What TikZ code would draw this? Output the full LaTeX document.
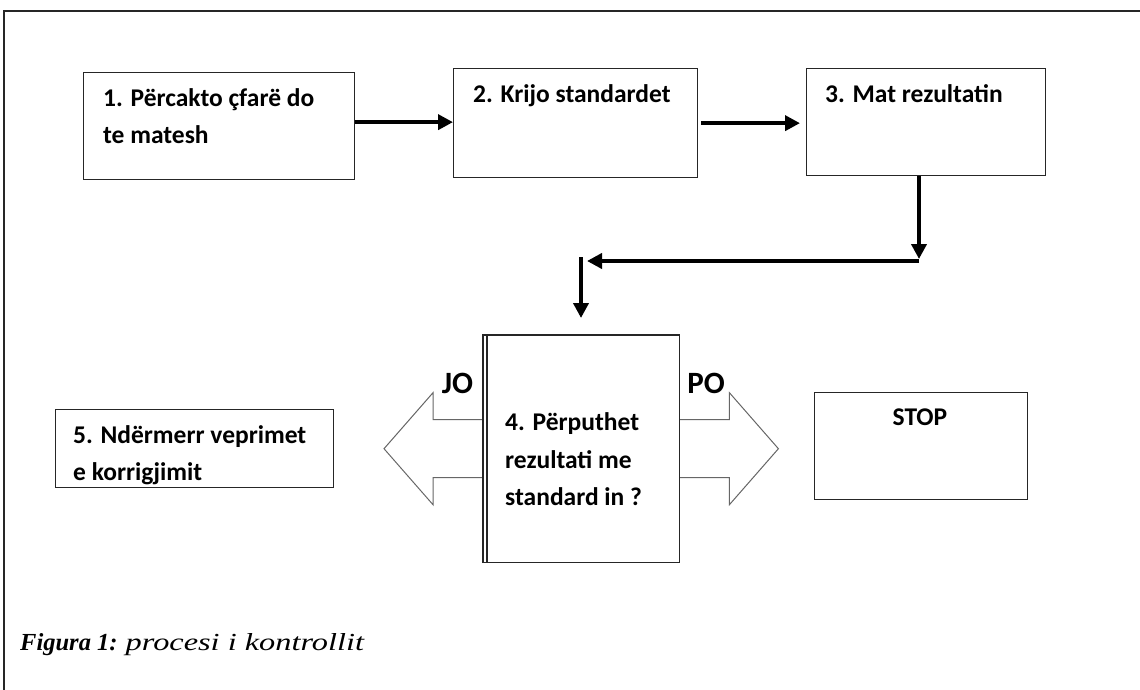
\documentclass[tikz,border=0pt]{standalone}
\usepackage{fontspec}
\setmainfont{Carlito}
\newfontfamily\capfont{Liberation Serif}
\usetikzlibrary{arrows.meta,calc}
\begin{document}
\begin{tikzpicture}[x=1pt,y=-1pt,
  box/.style={draw=black!85,line width=1.3pt,inner sep=0pt,anchor=north west},
  txt/.style={anchor=base west,inner sep=0pt,font=\fontsize{25.5}{30}\selectfont\bfseries,text=black},
  big/.style={anchor=base,inner sep=0pt,font=\fontsize{31}{36}\selectfont\bfseries},
  conn/.style={line width=4.5pt,-{Triangle[length=15pt,width=15pt]}},
  bigarrow/.style={draw=black!60,line width=1pt,fill=white,line join=miter}]
\useasboundingbox (0,0) rectangle (1140,690);
\draw[line width=1.5pt,black!85] (4,690) -- (4,11) -- (1140,11);

\node[box,minimum width=271pt,minimum height=107pt] (b1) at (83,72) {};
\node[box,minimum width=244pt,minimum height=109pt] (b2) at (453,68) {};
\node[box,minimum width=239pt,minimum height=107pt] (b3) at (806,68) {};
\node[box,minimum width=278pt,minimum height=78pt] (b5) at (55,409) {};
\node[box,minimum width=213pt,minimum height=107pt] (b6) at (814,392) {};

% big outline arrows
\node[inner sep=0pt,minimum width=196pt,minimum height=227pt,anchor=north west] (b4) at (483,335) {};
\draw[bigarrow] ($(b4.west)+(0,-29)$) -- ++(-50,0) -- ++(0,-27) -- ($(b4.west)+(-99,0)$)
  -- ($(b4.west)+(-50,56)$) -- ++(0,-27) -- ($(b4.west)+(0,29)$);
\draw[bigarrow] ($(b4.east)+(0,-29)$) -- ++(50,0) -- ++(0,-27) -- ($(b4.east)+(99,0)$)
  -- ($(b4.east)+(50,56)$) -- ++(0,-27) -- ($(b4.east)+(0,29)$);
\draw[draw=black!85,line width=1.3pt] (b4.north west) rectangle (b4.south east);
\draw[draw=black!85,line width=1.3pt] ($(b4.north west)+(4,0)$) -- ($(b4.south west)+(4,0)$);

\node[txt] (t1a) at (103,107) {1. Përcakto çfarë do};
\node[txt] (t1b) at (103,143) {te matesh};
\node[txt] (t2) at (473,103) {2. Krijo standardet};
\node[txt] (t3) at (825,103) {3. Mat rezultatin};
\node[txt] (t4a) at (505,430) {4. Përputhet};
\node[txt] (t4b) at (505,468) {rezultati me};
\node[txt] (t4c) at (505,505) {standard in ?};
\node[txt] (t5a) at (73,443) {5. Ndërmerr veprimet};
\node[txt] (t5b) at (73,480) {e korrigjimit};
\node[txt,anchor=base] (stop) at (920,425) {STOP};
\node[big] (jo) at (457.5,393) {JO};
\node[big] (po) at (706,393) {PO};

\node[anchor=base west,inner sep=0pt,font=\capfont\fontsize{24.5}{28}\selectfont] (cap) at (20,650)
  {\textbf{\textit{Figura 1:}} \scalebox{1.32}[1]{\textit{procesi i kontrollit}}};

% connectors
\draw[conn] ([yshift=4pt]b1.east) -- ([yshift=4pt]b1.east -| b2.west);
\draw[conn,shorten <=3pt,shorten >=6pt] (b2.east) -- (b2.east -| b3.west);
\coordinate (c1) at (919,261);
\coordinate (c2) at (587,261);
\coordinate (c3) at (581,257);
\draw[conn,shorten >=2pt] (b3.south -| c1) -- (c1);
\draw[conn] (c1) -- (c2);
\draw[conn,shorten >=17pt] (c3) -- (c3 |- b4.north);
\end{tikzpicture}
\end{document}
